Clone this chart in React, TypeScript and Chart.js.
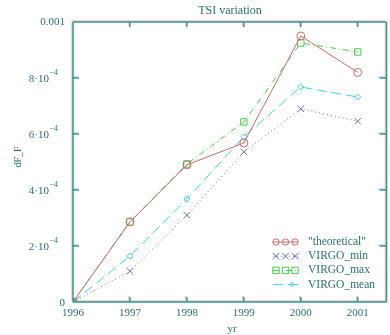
import React, { useEffect, useRef } from "react";
import { Chart, registerables } from "chart.js";

Chart.register(...registerables);

const years = [1996, 1997, 1998, 1999, 2000, 2001];
const theoretical = [0, 2.86e-4, 4.9e-4, 5.68e-4, 9.5e-4, 8.2e-4];
const virgoMin = [0, 1.1e-4, 3.1e-4, 5.36e-4, 6.9e-4, 6.46e-4];
const virgoMax = [0, 2.86e-4, 4.93e-4, 6.43e-4, 9.25e-4, 8.93e-4];
const virgoMean = [0, 1.64e-4, 3.68e-4, 5.9e-4, 7.68e-4, 7.32e-4];
const yTicks = [0, 2e-4, 4e-4, 6e-4, 8e-4, 1e-3];
const yTickBase = ["0", "2·10", "4·10", "6·10", "8·10", "0.001"];
const yTickExp = ["", "−4", "−4", "−4", "−4", ""];
const seriesNames = ['"theoretical"', "VIRGO_min", "VIRGO_max", "VIRGO_mean"];

const AXIS = "#2f9a96";
const TEXT = "#2a6f6c";
const FONT = '"Liberation Serif", "DejaVu Serif", serif';

const boxPlugin = {
  id: "boxPlugin",
  afterDraw(chart: any) {
    const ctx = chart.ctx;
    const xs = chart.scales.x;
    const ys = chart.scales.y;
    const { left, top, bottom } = chart.chartArea;
    const right = chart.chartArea.right + 2;
    ctx.save();
    const drawBox = (color: string, off: number) => {
      ctx.strokeStyle = color;
      ctx.lineWidth = 1.5;
      ctx.beginPath();
      ctx.moveTo(left + off, top + off);
      ctx.lineTo(right + off, top + off);
      ctx.moveTo(left + off, bottom + off);
      ctx.lineTo(right + off, bottom + off);
      ctx.moveTo(left + off, top + off);
      ctx.lineTo(left + off, bottom + off);
      ctx.moveTo(right + off, top + off);
      ctx.lineTo(right + off, bottom + off);
      for (const yv of years) {
        const px = xs.getPixelForValue(yv);
        ctx.moveTo(px + off, bottom + off);
        ctx.lineTo(px + off, bottom - 5 + off);
        ctx.moveTo(px + off, top + off);
        ctx.lineTo(px + off, top + 5 + off);
      }
      for (const t of yTicks) {
        const py = ys.getPixelForValue(t);
        ctx.moveTo(left + off, py + off);
        ctx.lineTo(left + 6 + off, py + off);
        ctx.moveTo(right + off, py + off);
        ctx.lineTo(right - 7 + off, py + off);
      }
      ctx.stroke();
    };
    drawBox("rgba(230,120,120,0.45)", -1);
    drawBox(AXIS, 0);

    ctx.fillStyle = TEXT;
    ctx.textBaseline = "middle";
    ctx.font = `11px ${FONT}`;
    ctx.textAlign = "center";
    for (const yv of years) {
      ctx.fillText(String(yv), xs.getPixelForValue(yv), bottom + 11);
    }
    yTicks.forEach((t, i) => {
      const py = ys.getPixelForValue(t);
      if (yTickExp[i]) {
        ctx.font = `8px ${FONT}`;
        ctx.textAlign = "right";
        ctx.fillText(yTickExp[i], left - 15, py - 5);
        ctx.font = `11px ${FONT}`;
        ctx.fillText(yTickBase[i], left - 24, py + 1);
      } else {
        ctx.font = `11px ${FONT}`;
        ctx.textAlign = "right";
        ctx.fillText(yTickBase[i], left - 8, py + (i === 0 ? 1 : 0));
      }
    });
    ctx.font = `12px ${FONT}`;
    ctx.textAlign = "center";
    ctx.fillText("TSI variation", 230, 11);
    ctx.font = `11px ${FONT}`;
    ctx.fillText("yr", 232, 329);
    ctx.save();
    ctx.translate(18, 157);
    ctx.rotate(-Math.PI / 2);
    ctx.font = `10px ${FONT}`;
    ctx.fillText("dF_F", 0, 0);
    ctx.restore();

    const ds = chart.data.datasets;
    const ly0 = 242;
    ds.forEach((d: any, i: number) => {
      const ly = ly0 + i * 14.2;
      ctx.save();
      ctx.strokeStyle = d.borderColor;
      ctx.lineWidth = 1;
      ctx.setLineDash(d.borderDash || []);
      ctx.beginPath();
      ctx.moveTo(273, ly);
      ctx.lineTo(298, ly);
      ctx.stroke();
      ctx.setLineDash([]);
      const marks = i === 3 ? [292] : [276, 285.5, 295];
      for (const mx of marks) {
        const r = i === 3 ? 2.2 : 3.2;
        ctx.beginPath();
        if (d.pointStyle === "circle") {
          ctx.arc(mx, ly, r, 0, Math.PI * 2);
        } else if (d.pointStyle === "crossRot") {
          ctx.moveTo(mx - r, ly - r);
          ctx.lineTo(mx + r, ly + r);
          ctx.moveTo(mx + r, ly - r);
          ctx.lineTo(mx - r, ly + r);
        } else if (d.pointStyle === "rect") {
          ctx.rect(mx - r, ly - r, 2 * r, 2 * r);
        } else {
          ctx.moveTo(mx, ly - r);
          ctx.lineTo(mx + r, ly);
          ctx.lineTo(mx, ly + r);
          ctx.lineTo(mx - r, ly);
          ctx.closePath();
        }
        ctx.stroke();
      }
      ctx.restore();
      ctx.fillStyle = TEXT;
      ctx.font = `11.5px ${FONT}`;
      ctx.textAlign = "left";
      ctx.fillText(seriesNames[i], 308, ly);
    });
    ctx.restore();
  },
};

function pts(vals: number[]) {
  return vals.map((v, i) => ({ x: years[i], y: v }));
}

export default function App() {
  const ref = useRef<HTMLCanvasElement | null>(null);
  useEffect(() => {
    if (!ref.current) return;
    const chart = new Chart(ref.current, {
      type: "line",
      data: {
        datasets: [
          {
            label: seriesNames[0],
            data: pts(theoretical),
            borderColor: "#c86a6a",
            backgroundColor: "rgba(255,255,255,0)",
            borderWidth: 1,
            pointStyle: "circle",
            pointRadius: 4,
            pointBorderWidth: 1,
            tension: 0,
          },
          {
            label: seriesNames[1],
            data: pts(virgoMin),
            borderColor: "#6a6ad2",
            backgroundColor: "rgba(255,255,255,0)",
            borderWidth: 1,
            borderDash: [1, 3],
            pointStyle: "crossRot",
            pointRadius: 4.5,
            pointBorderWidth: 1,
            tension: 0,
          },
          {
            label: seriesNames[2],
            data: pts(virgoMax),
            borderColor: "#3fcf48",
            backgroundColor: "rgba(255,255,255,0)",
            borderWidth: 1,
            borderDash: [6, 3, 1, 3],
            pointStyle: "rect",
            pointRadius: 4.5,
            pointBorderWidth: 1,
            tension: 0,
          },
          {
            label: seriesNames[3],
            data: pts(virgoMean),
            borderColor: "#3cd6e2",
            backgroundColor: "rgba(255,255,255,0)",
            borderWidth: 1,
            borderDash: [10, 5],
            pointStyle: "rectRot",
            pointRadius: 3,
            pointBorderWidth: 1,
            tension: 0,
          },
        ],
      },
      options: {
        responsive: false,
        animation: false,
        layout: { padding: { left: 73, right: 0, top: 22, bottom: 33 } },
        plugins: { legend: { display: false }, title: { display: false }, tooltip: { enabled: false } },
        scales: {
          x: { type: "linear", display: false, min: 1996, max: 2001.47 },
          y: { type: "linear", display: false, min: 0, max: 0.001 },
        },
      },
      plugins: [boxPlugin],
    });
    return () => chart.destroy();
  }, []);
  return (
    <div style={{ position: "fixed", left: 0, top: 0, width: 390, height: 335, background: "#fff" }}>
      <canvas ref={ref} width={390} height={335} style={{ width: 390, height: 335 }} />
    </div>
  );
}
